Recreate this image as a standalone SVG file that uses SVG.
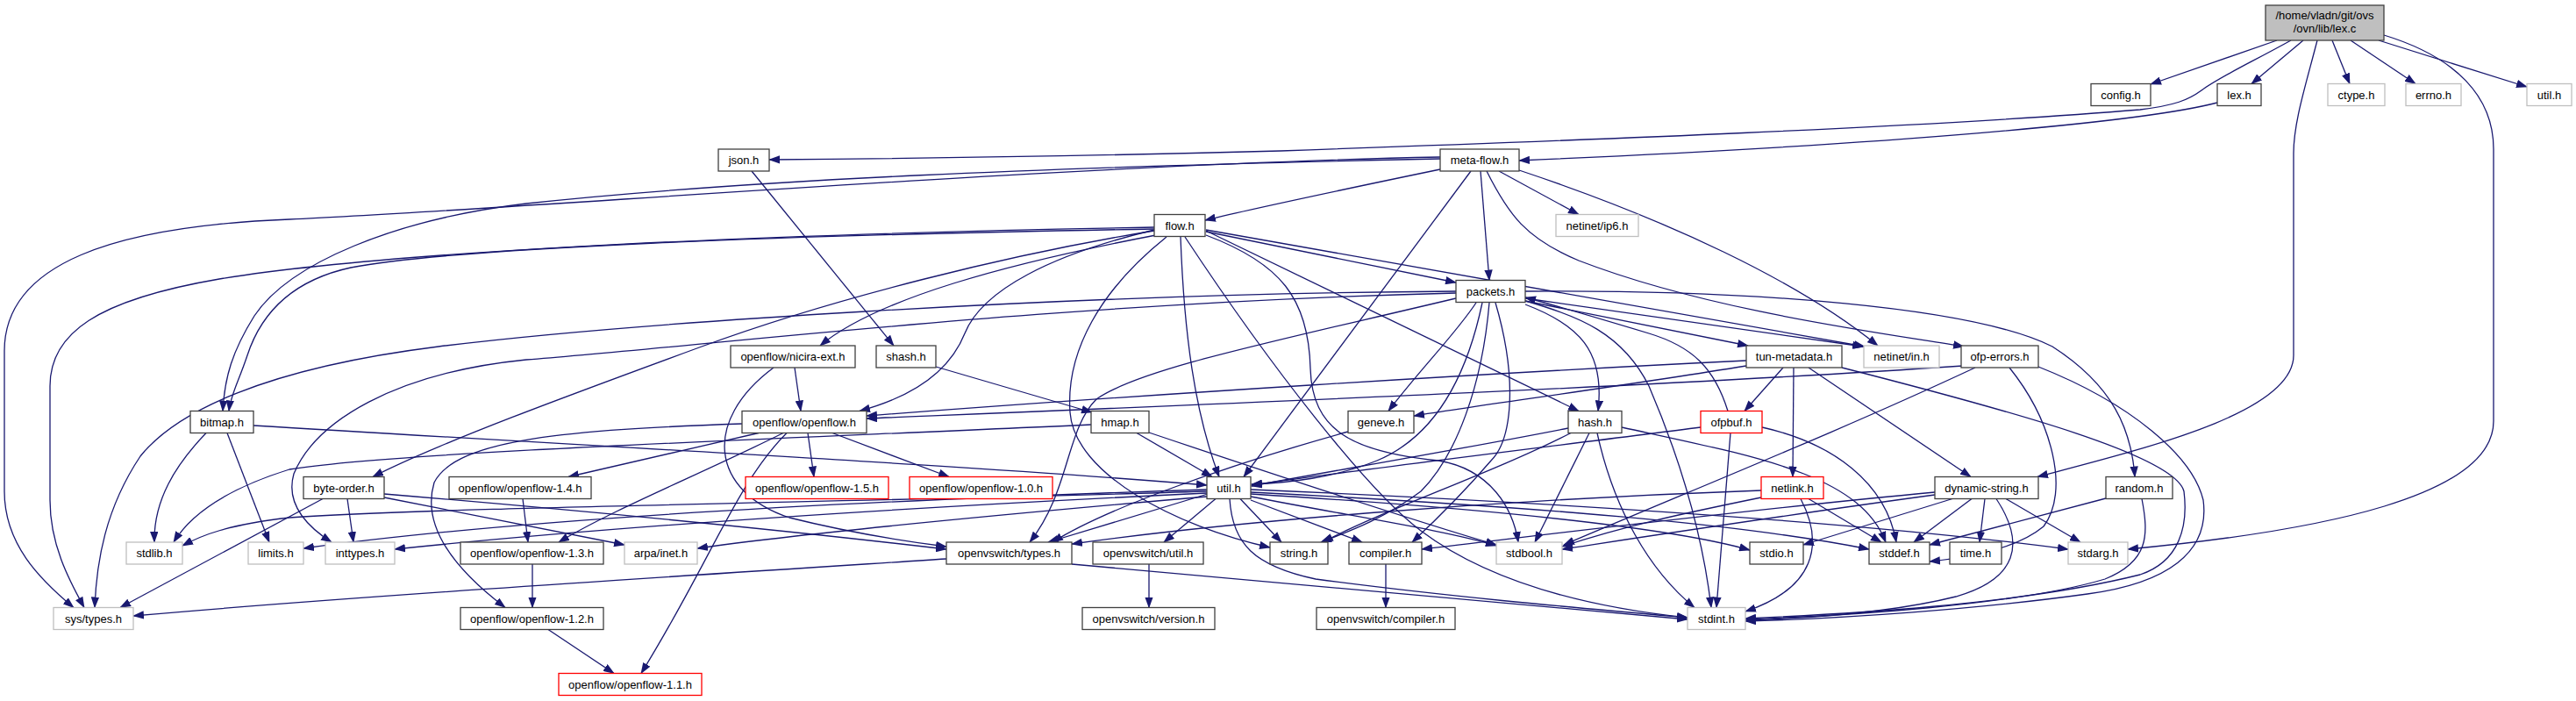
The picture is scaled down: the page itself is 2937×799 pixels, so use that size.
<svg xmlns="http://www.w3.org/2000/svg" width="2937" height="799" viewBox="0 0 2937 799">
<style>
rect{fill:#fff;stroke:#404040;stroke-width:1.3}
.g rect{stroke:#bfbfbf}
.r rect{stroke:#ff0000}
#lexc rect{fill:#bfbfbf;stroke:#404040}
text{font-family:"Liberation Sans",Arial,sans-serif;font-size:13px;text-anchor:middle;fill:#000}
#edges path{fill:none;stroke:#191970;stroke-width:1.3;marker-end:url(#a)}
</style>
<defs>
<marker id="a" viewBox="0 0 13 9.4" refX="12" refY="4.7" markerWidth="13" markerHeight="9.4" markerUnits="userSpaceOnUse" orient="auto"><path d="M0,0 L13,4.7 L0,9.4 z" fill="#191970"/></marker>
</defs>
<g id="edges">
<path d="M2596,46 L2452,96"/>
<path d="M2612,46 C2565,72 2530,88 2510,103 C2495,114 2480,120 2440,125 C2200,145 1800,160 1460,172 C1200,179 1000,181 877,182"/>
<path d="M2626,46 L2567,95.5"/>
<path d="M2659,46 L2679,95.5"/>
<path d="M2680,46 L2754,95.5"/>
<path d="M2712,46 L2881,99"/>
<path d="M2642,46 C2628,100 2615,140 2615,175 L2615,405 C2615,470 2450,510 2323,543.5"/>
<path d="M2718,40 C2800,65 2843,110 2843,170 L2843,480 C2843,565 2650,605 2426,626"/>
<path d="M2528,117 C2440,140 2150,165 1732,183"/>
<path d="M857,195 L1019,394"/>
<path d="M1642,181 C1200,190 850,205 600,232 C450,250 330,300 290,360 C265,400 256,430 254,468.5"/>
<path d="M1642,179 C1200,188 600,238 330,250 C130,258 5,300 5,400 L5,560 C5,620 45,660 84,692.5"/>
<path d="M1642,193 C1560,210 1440,235 1374,251"/>
<path d="M1677,195 L1418,543.5"/>
<path d="M1688,195 L1698,319.5"/>
<path d="M1709,195 L1800,244.5"/>
<path d="M1695,195 C1720,245 1740,272 1800,297 C1950,355 2150,380 2239,395"/>
<path d="M1732,194 C1900,250 2050,320 2141,394"/>
<path d="M1316,261 C900,268 520,282 400,305 C340,318 300,350 282,405 C272,435 263,450 261,468.5"/>
<path d="M1316,259 C800,268 420,290 250,318 C110,342 57,380 57,440 L57,570 C57,620 78,660 96,692.5"/>
<path d="M1316,263 C1150,290 950,340 800,395 C650,450 500,505 425,543.5"/>
<path d="M1318,268 C1150,300 1000,340 935,394"/>
<path d="M1316,262 C1200,290 1120,330 1100,380 C1080,430 1030,455 980,468.5"/>
<path d="M1330,270 C1255,330 1215,400 1220,470 C1225,540 1340,600 1448,624"/>
<path d="M1346,270 C1350,380 1362,470 1390,543.5"/>
<path d="M1351,270 C1450,420 1560,560 1620,605 C1700,665 1810,692 1924,704"/>
<path d="M1375,268 C1460,300 1492,340 1494,420 C1496,490 1540,515 1640,525 C1700,535 1725,580 1731,618"/>
<path d="M1375,263 L1800,468.5"/>
<path d="M1375,264 L1660,322"/>
<path d="M1375,262 L2126,395"/>
<path d="M1660,332 C1200,335 700,370 500,395 C300,420 200,470 160,520 C120,580 110,640 108,692.5"/>
<path d="M1660,334 C1200,345 800,395 600,410 C450,425 360,480 335,540 C325,575 350,600 378,618"/>
<path d="M1683,345 C1660,380 1620,420 1583,468.5"/>
<path d="M1660,340 C1450,390 1300,420 1250,455 C1215,490 1220,560 1174,618"/>
<path d="M1690,345 C1670,440 1630,500 1570,525 C1520,545 1470,550 1427,552"/>
<path d="M1698,345 C1690,440 1660,520 1620,560 C1580,590 1540,605 1506,618"/>
<path d="M1705,345 C1730,430 1725,500 1700,525 C1670,560 1640,590 1610,618"/>
<path d="M1739,347 C1800,370 1830,400 1822,468.5"/>
<path d="M1739,343 C1800,360 1850,380 1880,440 C1910,510 1940,600 1951,692.5"/>
<path d="M1739,343 L1993,394"/>
<path d="M1739,340 L2124,395"/>
<path d="M1739,332 C2000,330 2250,350 2340,395 C2410,440 2430,490 2434,543.5"/>
<path d="M1991,411 C1700,425 1300,450 988,474"/>
<path d="M1991,417 C1850,440 1700,460 1612,474"/>
<path d="M2033,419 L1989,468.5"/>
<path d="M2045,419 L2044,543.5"/>
<path d="M2062,419 L2247,543.5"/>
<path d="M2100,419 C2300,470 2480,520 2490,560 C2495,600 2485,640 2440,655 C2300,690 2100,700 1990,705"/>
<path d="M2238,417 C1900,440 1400,460 988,477"/>
<path d="M2252,419 C2100,490 1950,550 1783,621"/>
<path d="M2291,419 C2340,480 2360,560 2330,600 C2300,625 2250,635 2200,640"/>
<path d="M2324,418 C2430,460 2500,520 2512,570 C2520,630 2470,665 2380,677 C2250,695 2100,705 1990,708"/>
<path d="M1970,468.5 C1955,420 1930,395 1880,380 C1830,365 1780,350 1739,339"/>
<path d="M1939,487 C1800,505 1550,535 1427,553"/>
<path d="M2009,487 C2090,505 2150,550 2162,618"/>
<path d="M1973,493.5 L1957,692.5"/>
<path d="M2008,559 C1700,570 1400,595 1222,620"/>
<path d="M2008,567 C1920,585 1850,600 1781,623"/>
<path d="M2062,568.5 L2145,618"/>
<path d="M2053,568.5 C2080,620 2070,670 1990,697"/>
<path d="M2206,561 C2000,580 1800,605 1621,626"/>
<path d="M2206,564 C2050,585 1900,608 1781,626"/>
<path d="M2226,568.5 L2056,621"/>
<path d="M2248,568.5 L2182,618"/>
<path d="M2263,568.5 L2257,618"/>
<path d="M2276,568.5 C2310,620 2300,660 2230,680 C2150,700 2050,705 1990,707"/>
<path d="M2287,568.5 L2372,618"/>
<path d="M2401,568 L2200,621"/>
<path d="M2442,568.5 C2450,610 2450,640 2400,660 C2300,690 2100,702 1990,706"/>
<path d="M1788,488 C1650,515 1500,540 1427,554"/>
<path d="M1791,493.5 C1700,540 1580,580 1508,618"/>
<path d="M1812,493.5 L1750,618"/>
<path d="M1821,493.5 C1840,580 1880,650 1932,692.5"/>
<path d="M1849,487 C2000,520 2120,540 2150,618"/>
<path d="M1537,492 C1400,530 1260,580 1200,618"/>
<path d="M1376,560 C1000,572 500,578 330,590 C260,598 230,610 208,622"/>
<path d="M1376,558 C1000,570 600,590 346,625"/>
<path d="M1376,562 C1000,580 700,600 450,626"/>
<path d="M1376,566 C1100,590 900,610 795,625"/>
<path d="M1377,563 L1195,618"/>
<path d="M1386,568.5 L1327,618"/>
<path d="M1414,568.5 L1461,618"/>
<path d="M1426,570 L1553,618"/>
<path d="M1426,566 C1550,590 1650,605 1706,622"/>
<path d="M1426,563 C1700,580 1900,600 1995,627"/>
<path d="M1426,561 C1800,580 2000,600 2131,626"/>
<path d="M1426,558 C1900,578 2200,605 2358,626"/>
<path d="M1402,568.5 C1405,620 1430,645 1500,660 C1650,680 1800,693 1924,704"/>
<path d="M235,493.5 C200,530 175,570 176,618"/>
<path d="M259,493.5 L307,618"/>
<path d="M289,485 C700,510 1100,530 1376,553"/>
<path d="M368,568.5 L137,692.5"/>
<path d="M396,568.5 L403,618"/>
<path d="M438,563 C700,585 900,605 1079,626"/>
<path d="M438,567 L712,621"/>
<path d="M906,419 L913,468.5"/>
<path d="M882,419 C800,480 810,560 900,590 C980,610 1040,618 1079,623"/>
<path d="M865,493.5 L648,543.5"/>
<path d="M893,493.5 C800,540 700,580 637,618"/>
<path d="M897,493.5 C840,550 810,640 731,767.5"/>
<path d="M921,493.5 L928,543.5"/>
<path d="M949,493.5 L1082,543.5"/>
<path d="M846,483 C650,490 520,500 495,550 C480,600 520,650 576,692.5"/>
<path d="M1296,493.5 L1382,543.5"/>
<path d="M1244,484 C900,500 450,515 330,535 C250,560 215,590 198,618"/>
<path d="M1310,493 C1450,540 1600,590 1706,621"/>
<path d="M1067,418 L1245,470"/>
<path d="M596,568.5 L602,618"/>
<path d="M607,643 L607,692.5"/>
<path d="M625,717.5 L700,767.5"/>
<path d="M1079,637 C800,655 400,680 152,702"/>
<path d="M1222,643 C1500,670 1750,690 1924,706"/>
<path d="M1310,643 L1310,692.5"/>
<path d="M1580,643 L1580,692.5"/>
</g>
<g id="lexc"><rect x="2583" y="6" width="135" height="40"/><text x="2650.5" y="22">/home/vladn/git/ovs</text><text x="2650.5" y="37">/ovn/lib/lex.c</text></g>
<g id="config_h"><rect x="2384" y="95.5" width="68" height="25"/><text x="2418" y="112.5">config.h</text></g>
<g id="lex_h"><rect x="2528" y="95.5" width="50" height="25"/><text x="2553" y="112.5">lex.h</text></g>
<g id="ctype_h" class="g"><rect x="2654" y="95.5" width="65" height="25"/><text x="2686.5" y="112.5">ctype.h</text></g>
<g id="errno_h" class="g"><rect x="2743" y="95.5" width="63" height="25"/><text x="2774.5" y="112.5">errno.h</text></g>
<g id="util_h_top" class="g"><rect x="2881" y="95.5" width="51" height="25"/><text x="2906.5" y="112.5">util.h</text></g>
<g id="json_h"><rect x="819" y="170" width="58" height="25"/><text x="848" y="187">json.h</text></g>
<g id="meta_flow_h"><rect x="1642" y="170" width="90" height="25"/><text x="1687" y="187">meta-flow.h</text></g>
<g id="flow_h"><rect x="1316" y="244.5" width="58" height="25"/><text x="1345" y="261.5">flow.h</text></g>
<g id="netinet_ip6_h" class="g"><rect x="1774" y="244.5" width="94" height="25"/><text x="1821" y="261.5">netinet/ip6.h</text></g>
<g id="packets_h"><rect x="1660" y="319.5" width="79" height="25"/><text x="1699.5" y="336.5">packets.h</text></g>
<g id="nicira_ext_h"><rect x="833" y="394" width="142" height="25"/><text x="904" y="411">openflow/nicira-ext.h</text></g>
<g id="shash_h"><rect x="999" y="394" width="68" height="25"/><text x="1033" y="411">shash.h</text></g>
<g id="tun_metadata_h"><rect x="1991" y="394" width="109" height="25"/><text x="2045.5" y="411">tun-metadata.h</text></g>
<g id="netinet_in_h" class="g"><rect x="2125" y="394" width="86" height="25"/><text x="2168" y="411">netinet/in.h</text></g>
<g id="ofp_errors_h"><rect x="2236" y="394" width="88" height="25"/><text x="2280" y="411">ofp-errors.h</text></g>
<g id="bitmap_h"><rect x="217" y="468.5" width="72" height="25"/><text x="253" y="485.5">bitmap.h</text></g>
<g id="openflow_h"><rect x="846" y="468.5" width="142" height="25"/><text x="917" y="485.5">openflow/openflow.h</text></g>
<g id="hmap_h"><rect x="1244" y="468.5" width="66" height="25"/><text x="1277" y="485.5">hmap.h</text></g>
<g id="geneve_h"><rect x="1537" y="468.5" width="75" height="25"/><text x="1574.5" y="485.5">geneve.h</text></g>
<g id="hash_h"><rect x="1788" y="468.5" width="61" height="25"/><text x="1818.5" y="485.5">hash.h</text></g>
<g id="ofpbuf_h" class="r"><rect x="1939" y="468.5" width="70" height="25"/><text x="1974" y="485.5">ofpbuf.h</text></g>
<g id="byte_order_h"><rect x="346" y="543.5" width="92" height="25"/><text x="392" y="560.5">byte-order.h</text></g>
<g id="openflow_14_h"><rect x="512" y="543.5" width="162" height="25"/><text x="593" y="560.5">openflow/openflow-1.4.h</text></g>
<g id="openflow_15_h" class="r"><rect x="850" y="543.5" width="163" height="25"/><text x="931.5" y="560.5">openflow/openflow-1.5.h</text></g>
<g id="openflow_10_h" class="r"><rect x="1037" y="543.5" width="163" height="25"/><text x="1118.5" y="560.5">openflow/openflow-1.0.h</text></g>
<g id="util_h"><rect x="1376" y="543.5" width="50" height="25"/><text x="1401" y="560.5">util.h</text></g>
<g id="netlink_h" class="r"><rect x="2008" y="543.5" width="71" height="25"/><text x="2043.5" y="560.5">netlink.h</text></g>
<g id="dynamic_string_h"><rect x="2206" y="543.5" width="118" height="25"/><text x="2265" y="560.5">dynamic-string.h</text></g>
<g id="random_h"><rect x="2401" y="543.5" width="76" height="25"/><text x="2439" y="560.5">random.h</text></g>
<g id="stdlib_h" class="g"><rect x="144" y="618" width="64" height="25"/><text x="176" y="635">stdlib.h</text></g>
<g id="limits_h" class="g"><rect x="283" y="618" width="63" height="25"/><text x="314.5" y="635">limits.h</text></g>
<g id="inttypes_h" class="g"><rect x="371" y="618" width="79" height="25"/><text x="410.5" y="635">inttypes.h</text></g>
<g id="openflow_13_h"><rect x="525" y="618" width="163" height="25"/><text x="606.5" y="635">openflow/openflow-1.3.h</text></g>
<g id="arpa_inet_h" class="g"><rect x="712" y="618" width="83" height="25"/><text x="753.5" y="635">arpa/inet.h</text></g>
<g id="ovs_types_h"><rect x="1079" y="618" width="143" height="25"/><text x="1150.5" y="635">openvswitch/types.h</text></g>
<g id="ovs_util_h"><rect x="1246" y="618" width="126" height="25"/><text x="1309" y="635">openvswitch/util.h</text></g>
<g id="string_h"><rect x="1448" y="618" width="66" height="25"/><text x="1481" y="635">string.h</text></g>
<g id="compiler_h"><rect x="1538" y="618" width="83" height="25"/><text x="1579.5" y="635">compiler.h</text></g>
<g id="stdbool_h" class="g"><rect x="1706" y="618" width="75" height="25"/><text x="1743.5" y="635">stdbool.h</text></g>
<g id="stdio_h"><rect x="1995" y="618" width="61" height="25"/><text x="2025.5" y="635">stdio.h</text></g>
<g id="stddef_h"><rect x="2131" y="618" width="69" height="25"/><text x="2165.5" y="635">stddef.h</text></g>
<g id="time_h"><rect x="2223" y="618" width="59" height="25"/><text x="2252.5" y="635">time.h</text></g>
<g id="stdarg_h" class="g"><rect x="2358" y="618" width="68" height="25"/><text x="2392" y="635">stdarg.h</text></g>
<g id="sys_types_h" class="g"><rect x="61" y="692.5" width="91" height="25"/><text x="106.5" y="709.5">sys/types.h</text></g>
<g id="openflow_12_h"><rect x="525" y="692.5" width="163" height="25"/><text x="606.5" y="709.5">openflow/openflow-1.2.h</text></g>
<g id="ovs_version_h"><rect x="1234" y="692.5" width="151" height="25"/><text x="1309.5" y="709.5">openvswitch/version.h</text></g>
<g id="ovs_compiler_h"><rect x="1501" y="692.5" width="158" height="25"/><text x="1580" y="709.5">openvswitch/compiler.h</text></g>
<g id="stdint_h" class="g"><rect x="1924" y="692.5" width="66" height="25"/><text x="1957" y="709.5">stdint.h</text></g>
<g id="openflow_11_h" class="r"><rect x="637" y="767.5" width="163" height="25"/><text x="718.5" y="784.5">openflow/openflow-1.1.h</text></g>
</svg>
